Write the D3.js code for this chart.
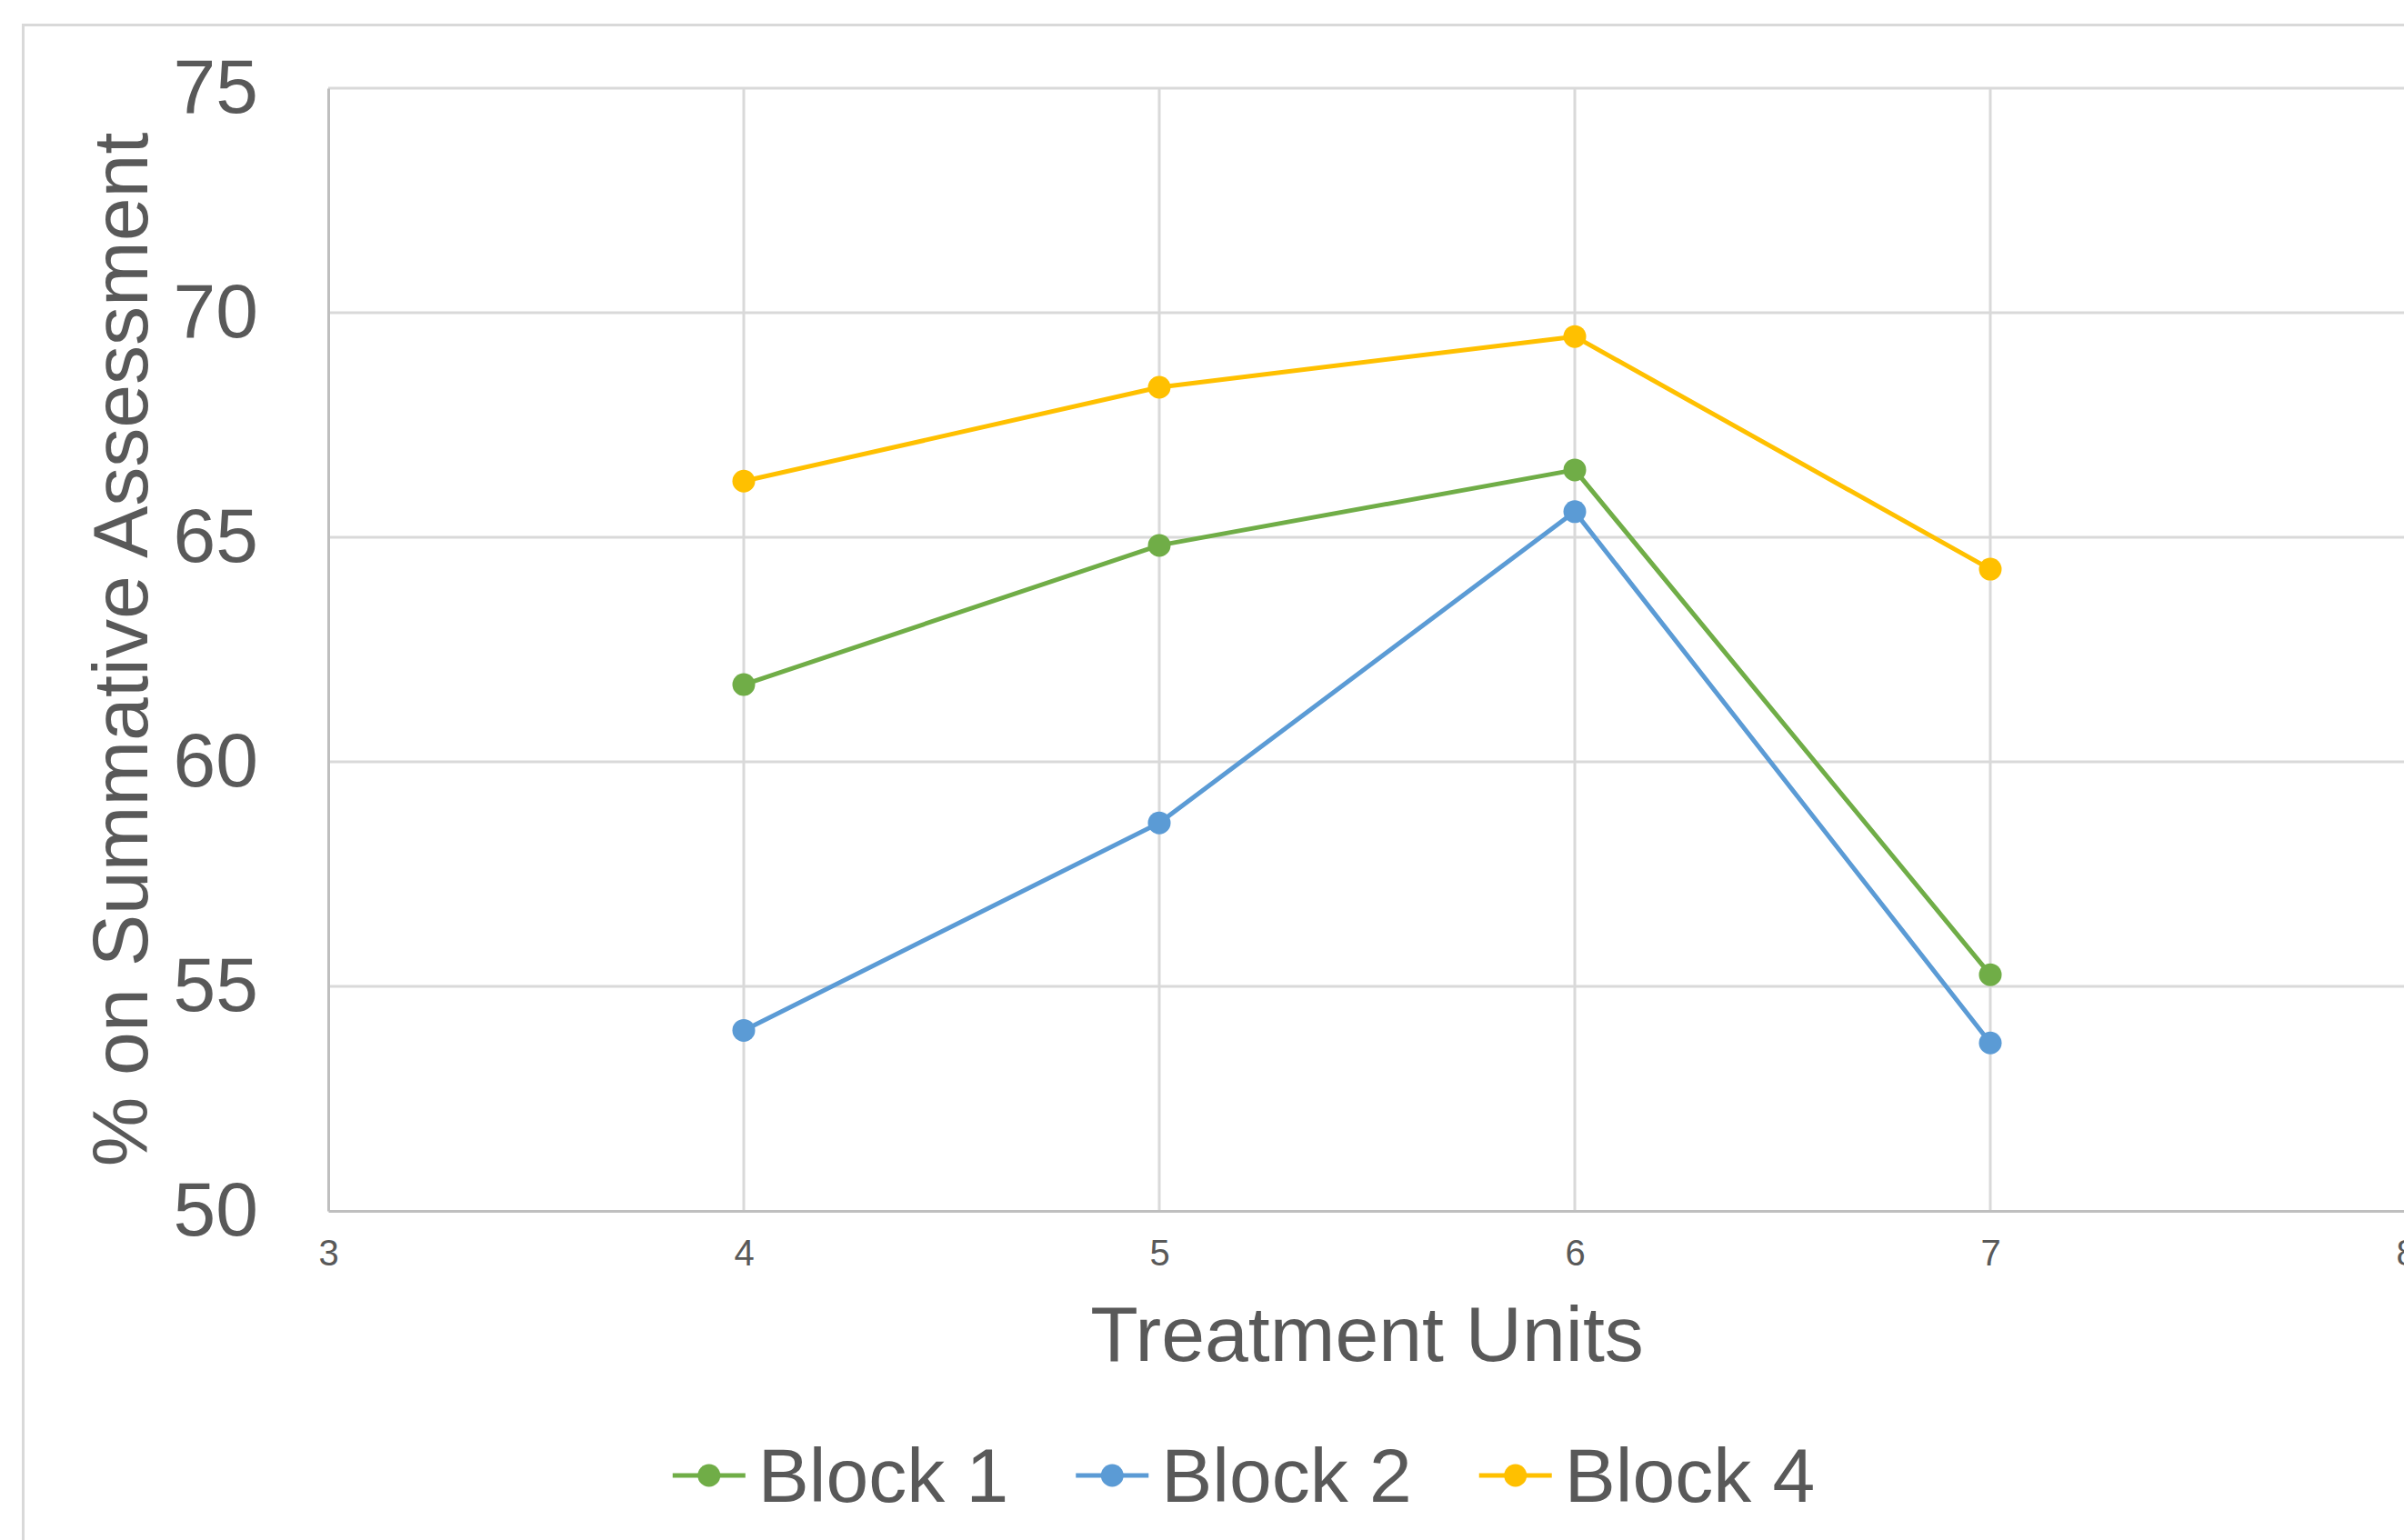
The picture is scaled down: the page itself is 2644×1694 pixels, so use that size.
<!DOCTYPE html>
<html>
<head>
<meta charset="utf-8">
<script src="https://cdn.jsdelivr.net/npm/d3@7"></script>
<style>
  html, body { margin: 0; padding: 0; background: #ffffff; overflow: hidden; }
  svg { display: block; }
  text { font-family: "Liberation Sans", Arial, sans-serif; fill: #595959; }
</style>
</head>
<body>
<script>
// Treatment units on the x axis and scores per block
const units = [4, 5, 6, 7];
const block1 = [61.72, 64.82, 66.5, 55.26];
const block2 = [54.02, 58.64, 65.57, 53.74];
const block4 = [66.25, 68.34, 69.47, 64.29];
const seriesNames = ["Block 1", "Block 2", "Block 4"];
const seriesColors = ["#70AD47", "#5B9BD5", "#FFC000"];
const xTicks = [3, 4, 5, 6, 7, 8];
const yTicks = [50, 55, 60, 65, 70, 75];

const W = 2644, H = 1694;
const plot = { left: 361, right: 2646, top: 97, bottom: 1332 };

const svg = d3.select("body").append("svg")
  .attr("width", W).attr("height", H);

// chart frame
svg.append("rect")
  .attr("x", 25.5).attr("y", 27.5)
  .attr("width", 2700).attr("height", 1720)
  .attr("fill", "#ffffff")
  .attr("stroke", "#d9d9d9").attr("stroke-width", 3);

const x = d3.scaleLinear().domain([3, 8]).range([plot.left, plot.right]);
const y = d3.scaleLinear().domain([50, 75]).range([plot.bottom, plot.top]);

// gridlines
const grid = svg.append("g");
grid.selectAll(".gy").data(yTicks.filter(v => v !== 50)).join("line")
  .attr("x1", plot.left).attr("x2", plot.right)
  .attr("y1", d => y(d)).attr("y2", d => y(d))
  .attr("stroke", "#d9d9d9").attr("stroke-width", 3);
grid.selectAll(".gx").data(xTicks.filter(v => v !== 3)).join("line")
  .attr("x1", d => x(d)).attr("x2", d => x(d))
  .attr("y1", plot.top).attr("y2", plot.bottom)
  .attr("stroke", "#d9d9d9").attr("stroke-width", 3);

// axes
const yAxis = svg.append("g")
  .attr("transform", `translate(${plot.left},0)`)
  .call(d3.axisLeft(y).tickValues(yTicks).tickSize(0).tickPadding(0));
yAxis.select(".domain").attr("stroke", "#bfbfbf").attr("stroke-width", 3);
yAxis.selectAll("text")
  .attr("x", 284 - plot.left)
  .attr("dy", "0.31em")
  .style("font-size", "84px")
  .style("font-family", '"Liberation Sans", Arial, sans-serif')
  .attr("fill", "#595959");

const xAxis = svg.append("g")
  .attr("transform", `translate(0,${plot.bottom})`)
  .call(d3.axisBottom(x).tickValues(xTicks).tickSize(0).tickPadding(0).tickFormat(d3.format("d")));
xAxis.select(".domain").attr("stroke", "#bfbfbf").attr("stroke-width", 3);
xAxis.selectAll("text")
  .attr("y", 60).attr("dy", 0)
  .style("font-size", "40px")
  .style("font-family", '"Liberation Sans", Arial, sans-serif')
  .attr("fill", "#595959");

// axis titles
svg.append("text")
  .attr("x", (plot.left + plot.right) / 2).attr("y", 1497)
  .attr("text-anchor", "middle")
  .style("font-size", "86px")
  .text("Treatment Units");

svg.append("text")
  .attr("transform", `translate(162,${(plot.top + plot.bottom) / 2}) rotate(-90)`)
  .attr("text-anchor", "middle")
  .style("font-size", "86px")
  .text("% on Summative Assessment");

// series
const series = [block1, block2, block4].map((vals, i) => ({
  name: seriesNames[i], color: seriesColors[i],
  points: units.map((u, j) => ({ u, v: vals[j] }))
}));

const line = d3.line().x(d => x(d.u)).y(d => y(d.v));
const sg = svg.append("g").selectAll("g").data(series).join("g");
sg.append("path")
  .attr("d", d => line(d.points))
  .attr("fill", "none")
  .attr("stroke", d => d.color)
  .attr("stroke-width", 5)
  .attr("stroke-linejoin", "round");
sg.selectAll("circle").data(d => d.points.map(p => ({ ...p, color: d.color }))).join("circle")
  .attr("cx", d => x(d.u)).attr("cy", d => y(d.v))
  .attr("r", 12.5)
  .attr("fill", d => d.color);

// legend
const legend = svg.append("g");
const items = legend.selectAll("g").data(series).join("g");
items.append("line")
  .attr("x1", 0).attr("x2", 80).attr("y1", 0).attr("y2", 0)
  .attr("stroke", d => d.color).attr("stroke-width", 5);
items.append("circle")
  .attr("cx", 40).attr("cy", 0).attr("r", 12.5)
  .attr("fill", d => d.color);
items.append("text")
  .attr("x", 94).attr("y", 29)
  .style("font-size", "84px")
  .text(d => d.name);

let offset = 0;
const gap = 74;
const widths = [];
items.each(function () {
  const w = 94 + d3.select(this).select("text").node().getComputedTextLength();
  widths.push(w);
});
const total = d3.sum(widths) + gap * (widths.length - 1);
const startX = 1368 - total / 2;
items.attr("transform", (d, i) => {
  const tx = startX + offset;
  offset += widths[i] + gap;
  return `translate(${tx},1623)`;
});
</script>
</body>
</html>
